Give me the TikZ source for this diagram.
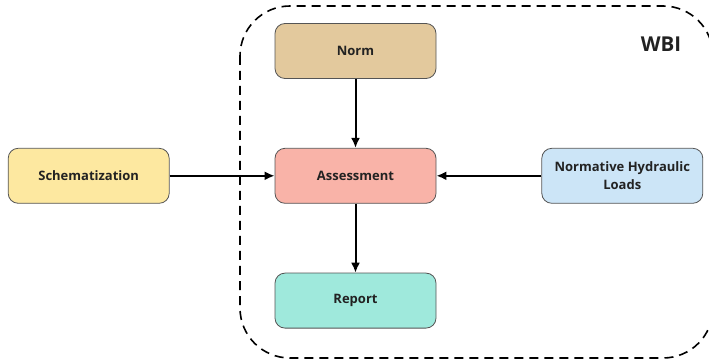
\documentclass[tikz,border=0pt]{standalone}
\usepackage{fontspec}
\setmainfont{Open Sans}
\usetikzlibrary{arrows.meta,positioning}

\definecolor{normfill}{HTML}{E3C99D}
\definecolor{assessfill}{HTML}{F9B3A8}
\definecolor{reportfill}{HTML}{9FE9DC}
\definecolor{schemfill}{HTML}{FDE8A0}
\definecolor{loadsfill}{HTML}{CCE5F7}
\definecolor{boxline}{HTML}{555555}
\definecolor{txt}{HTML}{222222}

\tikzset{
  block/.style={draw=boxline,line width=0.8pt,rounded corners=10pt,
    minimum width=161pt,minimum height=55pt,align=center,
    font=\fontsize{13}{18}\selectfont\bfseries,text=txt},
  flow/.style={-{Latex[length=10pt,width=9pt]},line width=2pt}
}

\begin{document}
\begin{tikzpicture}[x=1pt,y=-1pt,node distance=69pt and 105pt,>=Latex]
\useasboundingbox (0,0) rectangle (709,363);
\draw[dashed,dash pattern=on 9pt off 6pt,line width=1.6pt,rounded corners=50pt] (240,6) rectangle (713,358);
\node[font=\fontsize{20.5}{24}\selectfont\bfseries,text=txt] (wbi) at (661,44) {WBI};

\node[block,fill=normfill] (norm) at (355.5,51) {Norm};
\node[block,fill=assessfill,below=of norm] (assess) {Assessment};
\node[block,fill=reportfill,below=of assess] (report) {Report};
\node[block,fill=schemfill,left=of assess] (schem) {Schematization};
\node[block,fill=loadsfill,right=of assess] (loads) {Normative Hydraulic\\Loads};

\draw[flow] (norm) -- (assess);
\draw[flow] (assess) -- (report);
\draw[flow] (schem) -- (assess);
\draw[flow] (loads) -- (assess);
\end{tikzpicture}
\end{document}
